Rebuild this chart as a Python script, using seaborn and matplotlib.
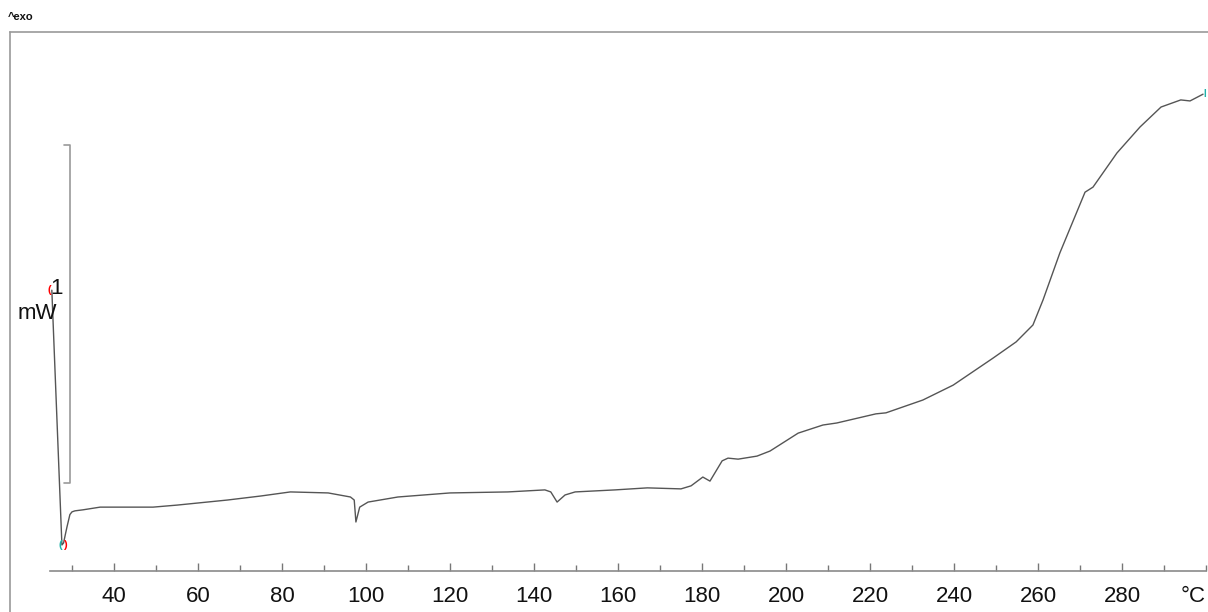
import numpy as np
import pandas as pd
import matplotlib
matplotlib.use('Agg')
import matplotlib.pyplot as plt
from matplotlib.lines import Line2D
import seaborn as sns

# DSC 曲线数据
temp_c = [25.2, 27.6, 28.0, 28.4, 28.8, 29.5, 30.0, 30.7, 32.6, 36.7, 49.3, 55.0, 67.0,
          75.0, 82.0, 91.0, 96.3, 97.2, 97.6, 98.5, 100.5, 107.6, 120.0, 133.8, 142.6,
          144.0, 145.5, 147.4, 149.8, 159.3, 167.0, 175.0, 177.4, 180.2, 181.9, 184.8,
          186.2, 188.6, 193.1, 196.2, 202.9, 208.8, 212.1, 221.4, 223.8, 232.6, 239.8,
          249.3, 254.8, 258.8, 261.2, 265.2, 271.2, 273.1, 278.8, 284.3, 289.3, 294.0,
          296.2, 299.3]
heat_flow_mw = [0.754, 0.000, 0.006, 0.030, 0.053, 0.090, 0.098, 0.101, 0.104, 0.112,
                0.112, 0.118, 0.133, 0.145, 0.157, 0.154, 0.142, 0.133, 0.068, 0.112,
                0.127, 0.142, 0.154, 0.157, 0.163, 0.157, 0.127, 0.148, 0.157, 0.163,
                0.169, 0.166, 0.175, 0.201, 0.189, 0.249, 0.257, 0.254, 0.263, 0.278,
                0.331, 0.355, 0.361, 0.388, 0.391, 0.429, 0.473, 0.553, 0.601, 0.651,
                0.725, 0.864, 1.044, 1.059, 1.160, 1.237, 1.296, 1.317, 1.314, 1.334]
major_ticks = [40, 60, 80, 100, 120, 140, 160, 180, 200, 220, 240, 260, 280]
minor_ticks = [30, 50, 70, 90, 110, 130, 150, 170, 190, 210, 230, 250, 270, 290, 300]

df = pd.DataFrame({'T': temp_c, 'HF': heat_flow_mw})

sns.set_theme(style='white')
plt.rcParams['font.family'] = ['Liberation Sans', 'DejaVu Sans']

fig = plt.figure(figsize=(12.08, 6.12), dpi=100)
ax = fig.add_axes([10 / 1208, 41 / 612, 1198 / 1208, 539 / 612])

sns.lineplot(data=df, x='T', y='HF', sort=False, color='#555555', linewidth=1.0, ax=ax)

ax.set_xlim(15.24, 300.48)
ax.set_ylim(-0.077, 1.518)

# 边框
frame_col = '#9a9a9a'
ax.spines['right'].set_visible(False)
ax.spines['left'].set_visible(False)
ax.spines['top'].set_color(frame_col)
ax.spines['top'].set_linewidth(1.2)
ax.spines['bottom'].set_color('#8a8a8a')
ax.spines['bottom'].set_linewidth(1.2)
ax.spines['bottom'].set_bounds(24.8, 300)
fig.add_artist(Line2D([10 / 1208, 10 / 1208], [0, 580 / 612], color=frame_col, linewidth=1.2))

ax.set_xticks(major_ticks)
ax.set_xticks(minor_ticks, minor=True)
ax.set_xticklabels([str(t) for t in major_ticks])
ax.tick_params(axis='x', which='major', direction='in', length=6, width=1, color='#777777',
               labelsize=16, pad=11, bottom=True, labelcolor='#111111')
ax.tick_params(axis='x', which='minor', direction='in', length=4, width=1, color='#777777',
               bottom=True)
ax.set_yticks([])
ax.set_xlabel('')
ax.set_ylabel('')

# 单位标签（和刻度标签同一行）
ax.text((1193 - 10) / 1198, -25 / 539, '°C', transform=ax.transAxes,
        ha='center', va='center', fontsize=16, color='#111111')

# 标尺 1 mW
ax.plot([28.1, 29.52, 29.52, 28.1], [1.183, 1.183, 0.183, 0.183], color='#9a9a9a',
        linewidth=1.2)
ax.text(26.2, 0.760, '1', ha='center', va='center', fontsize=16, color='#111111')
ax.text(21.7, 0.686, 'mW', ha='center', va='center', fontsize=16, color='#111111')

# 端点标记
ax.text(24.5, 0.754, '(', ha='center', va='center', fontsize=8, color='red', fontweight='bold')
ax.text(27.3, 0.0, '(', ha='center', va='center', fontsize=8, color='#20b2aa', fontweight='bold')
ax.text(28.2, 0.0, ')', ha='center', va='center', fontsize=8, color='red', fontweight='bold')
ax.text(299.6, 1.334, 'I', ha='center', va='center', fontsize=7, color='#20b2aa', fontweight='bold')

fig.text(8 / 1208, 1 - 17 / 612, '^exo', ha='left', va='center', fontsize=8,
         fontweight='bold', color='#111111')

plt.savefig('out.png', dpi=100)
